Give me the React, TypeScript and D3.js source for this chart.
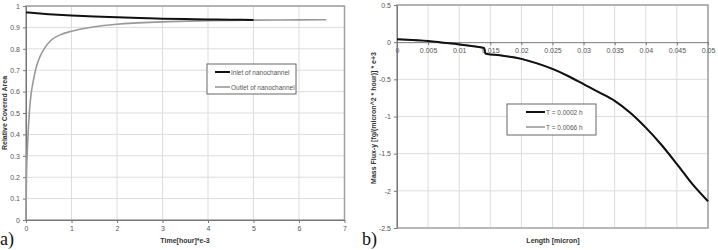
import React, { useEffect, useRef } from 'react';
import * as d3 from 'd3';

// panel a) relative covered area over time
const inletTime = [0, 0.5, 1, 1.5, 2, 2.5, 3, 3.5, 4, 4.5, 5];
const inletArea = [0.97, 0.962, 0.956, 0.951, 0.947, 0.944, 0.941, 0.939, 0.937, 0.936, 0.935];
const outletTime = [0, 0.01, 0.03, 0.05, 0.08, 0.12, 0.16, 0.22, 0.3, 0.4, 0.55, 0.75, 1, 1.5, 2, 3, 4, 5, 6, 6.6];
const outletArea = [0, 0.2, 0.33, 0.42, 0.52, 0.6, 0.65, 0.71, 0.76, 0.8, 0.84, 0.865, 0.882, 0.903, 0.915, 0.926, 0.931, 0.934, 0.935, 0.936];
const seriesA = ['Inlet of nanochannel', 'Outlet of nanochannel'];

// panel b) mass flux along channel length
const lengthPts = [0, 0.0025, 0.005, 0.0075, 0.01, 0.012, 0.014, 0.0142, 0.0145, 0.0165, 0.02, 0.0225, 0.025, 0.0275, 0.03, 0.0325, 0.035, 0.0375, 0.04, 0.0425, 0.045, 0.0475, 0.05];
const fluxEarly = [0.04, 0.028, 0.015, -0.008, -0.03, -0.052, -0.078, -0.15, -0.158, -0.175, -0.225, -0.285, -0.36, -0.455, -0.565, -0.675, -0.79, -0.95, -1.15, -1.38, -1.64, -1.91, -2.14];
const fluxLate = [0.04, 0.028, 0.015, -0.008, -0.03, -0.052, -0.078, -0.15, -0.158, -0.175, -0.225, -0.285, -0.36, -0.455, -0.565, -0.675, -0.79, -0.95, -1.15, -1.38, -1.64, -1.91, -2.14];
const seriesB = ['T = 0.0002 h', 'T = 0.0066 h'];
const xTicksB = [0, 0.005, 0.01, 0.015, 0.02, 0.025, 0.03, 0.035, 0.04, 0.045, 0.05];

const font = 'Arial, "Liberation Sans", sans-serif';
const serif = '"Liberation Serif", "Times New Roman", serif';
const gridColor = '#dddddd';
const frameColor = '#a0a0a0';
const textColor = '#555';

function App() {
  const ref = useRef<SVGSVGElement>(null);

  useEffect(() => {
    const svg = d3.select(ref.current);
    svg.selectAll('*').remove();

    // ---------- panel a ----------
    const xA = d3.scaleLinear().domain([0, 7]).range([26, 344.5]);
    const yA = d3.scaleLinear().domain([0, 1]).range([220, 6]);
    const a = svg.append('g');

    a.append('g')
      .selectAll('line')
      .data(d3.range(1, 8))
      .enter()
      .append('line')
      .attr('x1', (d) => xA(d)).attr('x2', (d) => xA(d))
      .attr('y1', yA(0)).attr('y2', yA(1))
      .attr('stroke', gridColor);
    a.append('g')
      .selectAll('line')
      .data(d3.range(1, 11).map((d) => d / 10))
      .enter()
      .append('line')
      .attr('x1', xA(0)).attr('x2', xA(7))
      .attr('y1', (d) => yA(d)).attr('y2', (d) => yA(d))
      .attr('stroke', gridColor);
    a.append('rect')
      .attr('x', xA(0)).attr('y', yA(1))
      .attr('width', xA(7) - xA(0)).attr('height', yA(0) - yA(1))
      .attr('fill', 'none').attr('stroke', frameColor).attr('stroke-width', 1.5);

    const axA = a.append('g')
      .attr('transform', `translate(0,${yA(0)})`)
      .call(d3.axisBottom(xA).ticks(7).tickSize(3).tickSizeOuter(0).tickFormat(d3.format('d')));
    const ayA = a.append('g')
      .attr('transform', `translate(${xA(0)},0)`)
      .call(d3.axisLeft(yA).tickValues(d3.range(0, 11).map((d) => d / 10)).tickSize(3).tickSizeOuter(0).tickFormat((d) => String(+(+d).toFixed(1))));
    [axA, ayA].forEach((g) => {
      g.select('.domain').attr('stroke', '#777');
      g.selectAll('.tick line').attr('stroke', '#777');
      g.selectAll('text').attr('fill', textColor).style('font-size', '7px').style('font-family', font);
    });

    const lineA = d3.line<[number, number]>()
      .x((d) => xA(d[0])).y((d) => yA(d[1]))
      .curve(d3.curveMonotoneX);
    a.append('path')
      .datum(outletTime.map((t, i) => [t, outletArea[i]] as [number, number]))
      .attr('d', lineA).attr('fill', 'none').attr('stroke', '#999').attr('stroke-width', 1.6);
    a.append('path')
      .datum(inletTime.map((t, i) => [t, inletArea[i]] as [number, number]))
      .attr('d', lineA).attr('fill', 'none').attr('stroke', '#111').attr('stroke-width', 2);

    // legend a
    const legA = a.append('g').attr('transform', 'translate(207,64)');
    legA.append('rect').attr('width', 89).attr('height', 30)
      .attr('fill', 'white').attr('stroke', '#666');
    seriesA.forEach((s, i) => {
      legA.append('line').attr('x1', 8).attr('x2', 23).attr('y1', 8 + i * 15).attr('y2', 8 + i * 15)
        .attr('stroke', i === 0 ? '#111' : '#999').attr('stroke-width', i === 0 ? 2 : 1.6);
      legA.append('text').attr('x', 24).attr('y', 10.5 + i * 15).text(s)
        .attr('fill', textColor).style('font-size', '6.5px').style('font-family', font);
    });

    a.append('text').attr('x', 185).attr('y', 243).attr('text-anchor', 'middle')
      .text('Time[hour]*e-3').attr('fill', '#333')
      .style('font-size', '7px').style('font-weight', 'bold').style('font-family', font);
    a.append('text').attr('transform', 'translate(7,113) rotate(-90)').attr('text-anchor', 'middle')
      .text('Relative Covered Area').attr('fill', '#333')
      .style('font-size', '7px').style('font-weight', 'bold').style('font-family', font);
    a.append('text').attr('x', 0).attr('y', 245).text('a)')
      .attr('fill', '#111').style('font-size', '18px').style('font-family', serif);

    // ---------- panel b ----------
    const xB = d3.scaleLinear().domain([0, 0.05]).range([397, 708]);
    const yB = d3.scaleLinear().domain([-2.5, 0.5]).range([228, 5]);
    const b = svg.append('g');

    b.append('g')
      .selectAll('line')
      .data(xTicksB.slice(1))
      .enter()
      .append('line')
      .attr('x1', (d) => xB(d)).attr('x2', (d) => xB(d))
      .attr('y1', yB(-2.5)).attr('y2', yB(0.5))
      .attr('stroke', gridColor);
    b.append('g')
      .selectAll('line')
      .data([-2, -1.5, -1, -0.5, 0.5])
      .enter()
      .append('line')
      .attr('x1', xB(0)).attr('x2', xB(0.05))
      .attr('y1', (d) => yB(d)).attr('y2', (d) => yB(d))
      .attr('stroke', gridColor);
    b.append('rect')
      .attr('x', xB(0)).attr('y', yB(0.5))
      .attr('width', xB(0.05) - xB(0)).attr('height', yB(-2.5) - yB(0.5))
      .attr('fill', 'none').attr('stroke', frameColor).attr('stroke-width', 1.5);

    const axB = b.append('g')
      .attr('transform', `translate(0,${yB(0)})`)
      .call(d3.axisBottom(xB).tickValues(xTicksB).tickSize(3).tickSizeOuter(0).tickFormat((d) => String(+(+d).toFixed(3))));
    const ayB = b.append('g')
      .attr('transform', `translate(${xB(0)},0)`)
      .call(d3.axisLeft(yB).tickValues([-2.5, -2, -1.5, -1, -0.5, 0, 0.5]).tickSize(3).tickSizeOuter(0).tickFormat((d) => String(+d)));
    [axB, ayB].forEach((g) => {
      g.select('.domain').attr('stroke', '#777');
      g.selectAll('.tick line').attr('stroke', '#777');
      g.selectAll('text').attr('fill', textColor).style('font-size', '7px').style('font-family', font);
    });

    const lineB = d3.line<[number, number]>()
      .x((d) => xB(d[0])).y((d) => yB(d[1]))
      .curve(d3.curveMonotoneX);
    b.append('path')
      .datum(lengthPts.map((t, i) => [t, fluxLate[i]] as [number, number]))
      .attr('d', lineB).attr('fill', 'none').attr('stroke', '#999').attr('stroke-width', 1.6);
    b.append('path')
      .datum(lengthPts.map((t, i) => [t, fluxEarly[i]] as [number, number]))
      .attr('d', lineB).attr('fill', 'none').attr('stroke', '#111').attr('stroke-width', 2);

    const legB = b.append('g').attr('transform', 'translate(507,104)');
    legB.append('rect').attr('width', 89).attr('height', 31)
      .attr('fill', 'white').attr('stroke', '#666');
    seriesB.forEach((s, i) => {
      legB.append('line').attr('x1', 19).attr('x2', 38).attr('y1', 8 + i * 15).attr('y2', 8 + i * 15)
        .attr('stroke', i === 0 ? '#111' : '#999').attr('stroke-width', i === 0 ? 2 : 1.6);
      legB.append('text').attr('x', 39).attr('y', 10.5 + i * 15).text(s)
        .attr('fill', textColor).style('font-size', '6.5px').style('font-family', font);
    });

    b.append('text').attr('x', 553).attr('y', 243).attr('text-anchor', 'middle')
      .text('Length [micron]').attr('fill', '#333')
      .style('font-size', '7px').style('font-weight', 'bold').style('font-family', font);
    b.append('text').attr('transform', 'translate(376,118) rotate(-90)').attr('text-anchor', 'middle')
      .text('Mass Flux-y [fg/(micron^2 * hour)] * e+3').attr('fill', '#333')
      .style('font-size', '7px').style('font-weight', 'bold').style('font-family', font);
    b.append('text').attr('x', 362).attr('y', 245).text('b)')
      .attr('fill', '#111').style('font-size', '18px').style('font-family', serif);
  }, []);

  return (
    <svg
      ref={ref}
      width={718}
      height={250}
      style={{ position: 'absolute', left: 0, top: 0, background: 'white' }}
    />
  );
}

export default App;
